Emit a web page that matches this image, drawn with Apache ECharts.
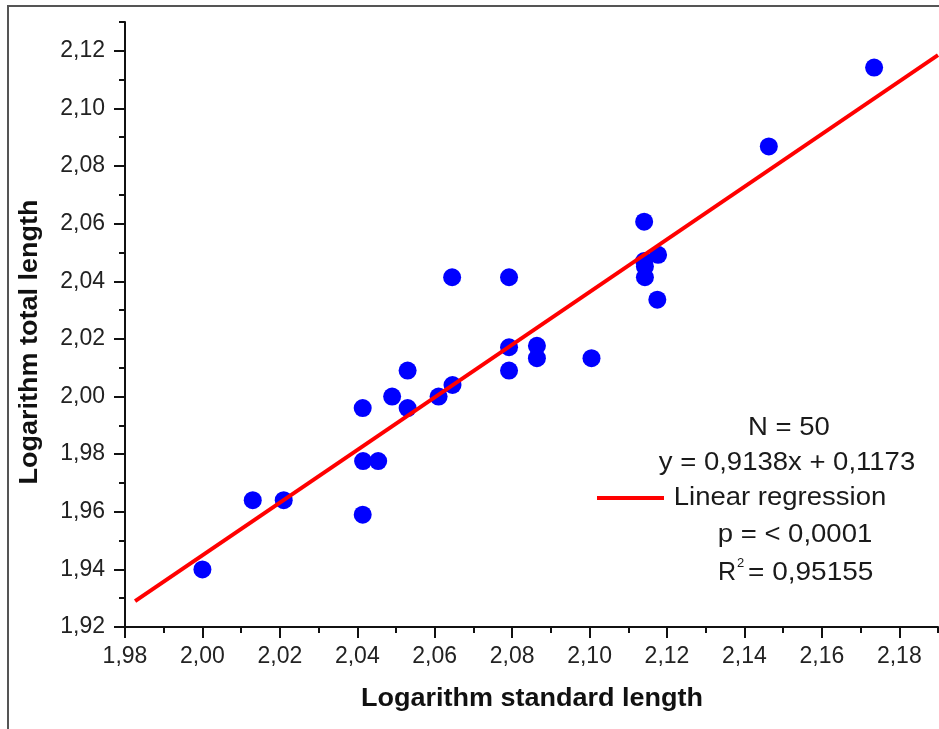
<!DOCTYPE html>
<html>
<head>
<meta charset="utf-8">
<script src="https://cdn.jsdelivr.net/npm/echarts@6/dist/echarts.min.js"></script>
<style>
html,body{margin:0;padding:0;background:#fff;}
#chart{width:939px;height:729px;}
</style>
</head>
<body>
<div id="chart"></div>
<script>
// ---- data ----
const xTicks = [1.98, 2.00, 2.02, 2.04, 2.06, 2.08, 2.10, 2.12, 2.14, 2.16, 2.18];
const xMinorTicks = [1.99, 2.01, 2.03, 2.05, 2.07, 2.09, 2.11, 2.13, 2.15, 2.17, 2.19];
const yTicks = [1.92, 1.94, 1.96, 1.98, 2.00, 2.02, 2.04, 2.06, 2.08, 2.10, 2.12];
const yMinorTicks = [1.93, 1.95, 1.97, 1.99, 2.01, 2.03, 2.05, 2.07, 2.09, 2.11, 2.13];

const stdLength = [2.000, 2.013, 2.021, 2.0415, 2.0454, 2.0414, 2.0414, 2.049, 2.053, 2.053,
                   2.061, 2.0646, 2.0645, 2.0792, 2.0792, 2.0792, 2.0864, 2.0864, 2.1005, 2.1141,
                   2.1143, 2.1143, 2.1141, 2.1177, 2.1175, 2.1463, 2.1735];
const totLength = [1.940, 1.964, 1.964, 1.9776, 1.9776, 1.959, 1.996, 2.000, 1.996, 2.009,
                   2.000, 2.004, 2.0414, 2.0414, 2.0171, 2.009, 2.0176, 2.0133, 2.0133, 2.0607,
                   2.0414, 2.0451, 2.047, 2.0492, 2.0336, 2.0868, 2.1142];

const fitX = [1.9826, 2.19];
const fitY = [1.929, 2.1185];

const xTitle = 'Logarithm standard length';
const yTitle = 'Logarithm total length';
const statLines = ['N = 50', 'y = 0,9138x + 0,1173', 'Linear regression', 'p = < 0,0001'];
const r2Value = '= 0,95155';

// ---- chart ----
const FONT = '"Liberation Sans", Arial, Helvetica, sans-serif';
const fmt = v => v.toFixed(2).replace('.', ',');

const chart = echarts.init(document.getElementById('chart'), null, {renderer: 'canvas'});

function mainAxis(min, max, ticks, margin) {
  return {
    type: 'value', min: min, max: max,
    axisLine: {show: true, onZero: false, lineStyle: {color: '#111', width: 2}},
    axisTick: {show: true, inside: false, length: 11, customValues: ticks, lineStyle: {color: '#111', width: 2}},
    axisLabel: {show: true, customValues: ticks, formatter: fmt, margin: margin,
                color: '#222', fontSize: 23, fontFamily: FONT},
    splitLine: {show: false}
  };
}
function minorAxis(min, max, ticks) {
  return {
    type: 'value', min: min, max: max,
    axisLine: {show: false, onZero: false},
    axisTick: {show: true, inside: false, length: 6, customValues: ticks, lineStyle: {color: '#111', width: 2}},
    axisLabel: {show: false},
    splitLine: {show: false}
  };
}

const xa0 = mainAxis(1.98, 2.19, xTicks, 18); xa0.position = 'bottom';
const xa1 = minorAxis(1.98, 2.19, xMinorTicks); xa1.position = 'bottom';
const ya0 = mainAxis(1.92, 2.13, yTicks, 20); ya0.position = 'left';
const ya1 = minorAxis(1.92, 2.13, yMinorTicks); ya1.position = 'left';

const statY = [428, 463, 498, 535];
const statX = [789, 787, 780, 795];

const graphics = [
  {type: 'rect', shape: {x: 8, y: 6, width: 1000, height: 1000},
   style: {fill: null, stroke: '#555', lineWidth: 2}, silent: true, z: 0},
  {type: 'text', x: 532, y: 699, scaleX: 1.08,
   style: {text: xTitle, font: 'bold 25px ' + FONT, fill: '#111', textAlign: 'center', textVerticalAlign: 'middle'}},
  {type: 'text', x: 30, y: 342, rotation: Math.PI / 2, scaleX: 1.08,
   style: {text: yTitle, font: 'bold 25px ' + FONT, fill: '#111', textAlign: 'center', textVerticalAlign: 'middle'}},
  {type: 'line', shape: {x1: 597, y1: 498, x2: 664, y2: 498},
   style: {stroke: '#ff0000', lineWidth: 4}}
];
statLines.forEach((t, i) => {
  graphics.push({type: 'text', x: statX[i], y: statY[i], scaleX: 1.1,
    style: {text: t, font: '25px ' + FONT, fill: '#1a1a1a', textAlign: 'center', textVerticalAlign: 'middle'}});
});
graphics.push({type: 'text', x: 718, y: 573,
  style: {text: 'R', font: '25px ' + FONT, fill: '#1a1a1a', textAlign: 'left', textVerticalAlign: 'middle'}});
graphics.push({type: 'text', x: 737, y: 563,
  style: {text: '2', font: '13px ' + FONT, fill: '#1a1a1a', textAlign: 'left', textVerticalAlign: 'middle'}});
graphics.push({type: 'text', x: 748, y: 573, scaleX: 1.12,
  style: {text: r2Value, font: '25px ' + FONT, fill: '#1a1a1a', textAlign: 'left', textVerticalAlign: 'middle'}});

const option = {
  animation: false,
  backgroundColor: '#ffffff',
  grid: {left: 125, top: 22, width: 813, height: 605, containLabel: false, outerBoundsMode: 'none'},
  xAxis: [xa0, xa1],
  yAxis: [ya0, ya1],
  series: [
    {
      type: 'scatter', xAxisIndex: 0, yAxisIndex: 0,
      symbol: 'circle', symbolSize: 18,
      itemStyle: {color: '#0000ff', opacity: 1},
      emphasis: {disabled: true},
      data: stdLength.map((x, i) => [x, totLength[i]]),
      z: 2
    },
    {
      type: 'line', xAxisIndex: 0, yAxisIndex: 0,
      symbol: 'none',
      lineStyle: {color: '#ff0000', width: 4},
      emphasis: {disabled: true},
      data: fitX.map((x, i) => [x, fitY[i]]),
      z: 3
    }
  ],
  graphic: graphics
};
chart.setOption(option);
</script>
</body>
</html>
